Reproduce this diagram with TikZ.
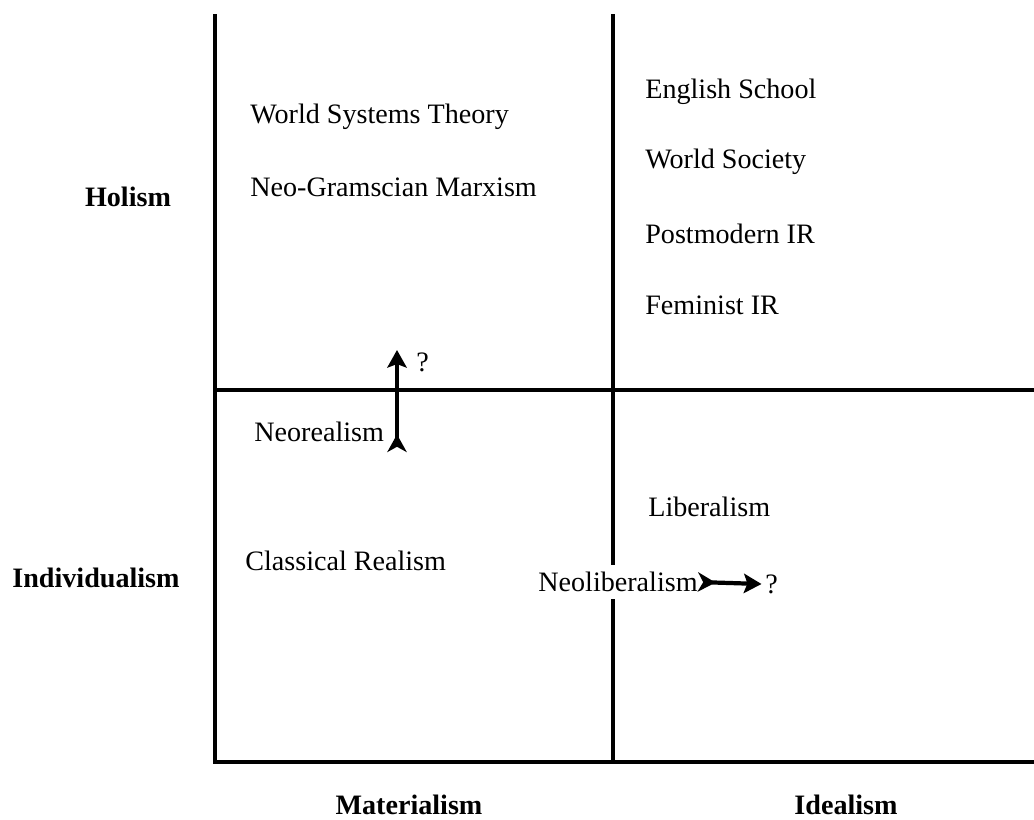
\documentclass[tikz,border=0pt]{standalone}
\usepackage{fontspec}
\setmainfont{Liberation Serif}
\usetikzlibrary{arrows.meta}

\begin{document}
\begin{tikzpicture}[x=0.02cm, y=-0.02cm,
    axis/.style ={line width=2.3pt},
    theory/.style ={anchor=west, inner sep=0pt, font=\fontsize{16}{18}\selectfont},
    dimension/.style ={inner sep=0pt, font=\fontsize{16}{18}\selectfont\bfseries},
    drift/.style ={line width=2.4pt, {Stealth[reversed,length=10pt,width=11pt,inset=3pt]}-{Stealth[length=10pt,width=11pt,inset=2pt]}}]
   \useasboundingbox (0,0) rectangle (1034,819);

   \coordinate (LT) at (215,14);
   \coordinate (MT) at (613,14);
   \coordinate (LB) at (215,762);
   \coordinate (MB) at (613,762);
   \coordinate (RB) at (1034,762);
   \coordinate (LM) at (215,390);
   \coordinate (RM) at (1034,390);

   \draw[axis] (LT) to (LB) to (RB);
   \draw[axis] (MT) to (MB);
   \draw[axis] (LM) to (RM);

   \node[dimension] (holism) at (128,197) {Holism};
   \node[dimension] (indiv) at (96,578) {Individualism};
   \node[dimension] (mat) at (409,805) {Materialism};
   \node[dimension] (ideal) at (846,805) {Idealism};

   \node[theory] (wst) at (250,117) {World Systems Theory};
   \node[theory] (ngm) at (250,187) {Neo-Gramscian Marxism};
   \node[theory] (eng) at (645,92) {English School};
   \node[theory] (wsoc) at (645,162) {World Society};
   \node[theory] (pmir) at (645,234) {Postmodern IR};
   \node[theory] (femir) at (645,305) {Feminist IR};
   \node[theory] (neoreal) at (254,432) {Neorealism};
   \node[theory] (classreal) at (245,561) {Classical Realism};
   \node[theory] (lib) at (648,507) {Liberalism};
   \node[theory, fill=white, inner ysep=4pt] (neolib) at (538,582) {Neoliberalism};

   \node[theory] (qup) at (416,362) {?};
   \node[theory] (qright) at (765,584) {?};

   \coordinate (upfrom) at (397,452);
   \coordinate (upto) at (397,350);
   \draw[drift] (upfrom) to (upto);
   \draw[drift] (neolib.east) to ([xshift=-2pt]qright.west);
 \end{tikzpicture}
\end{document}
